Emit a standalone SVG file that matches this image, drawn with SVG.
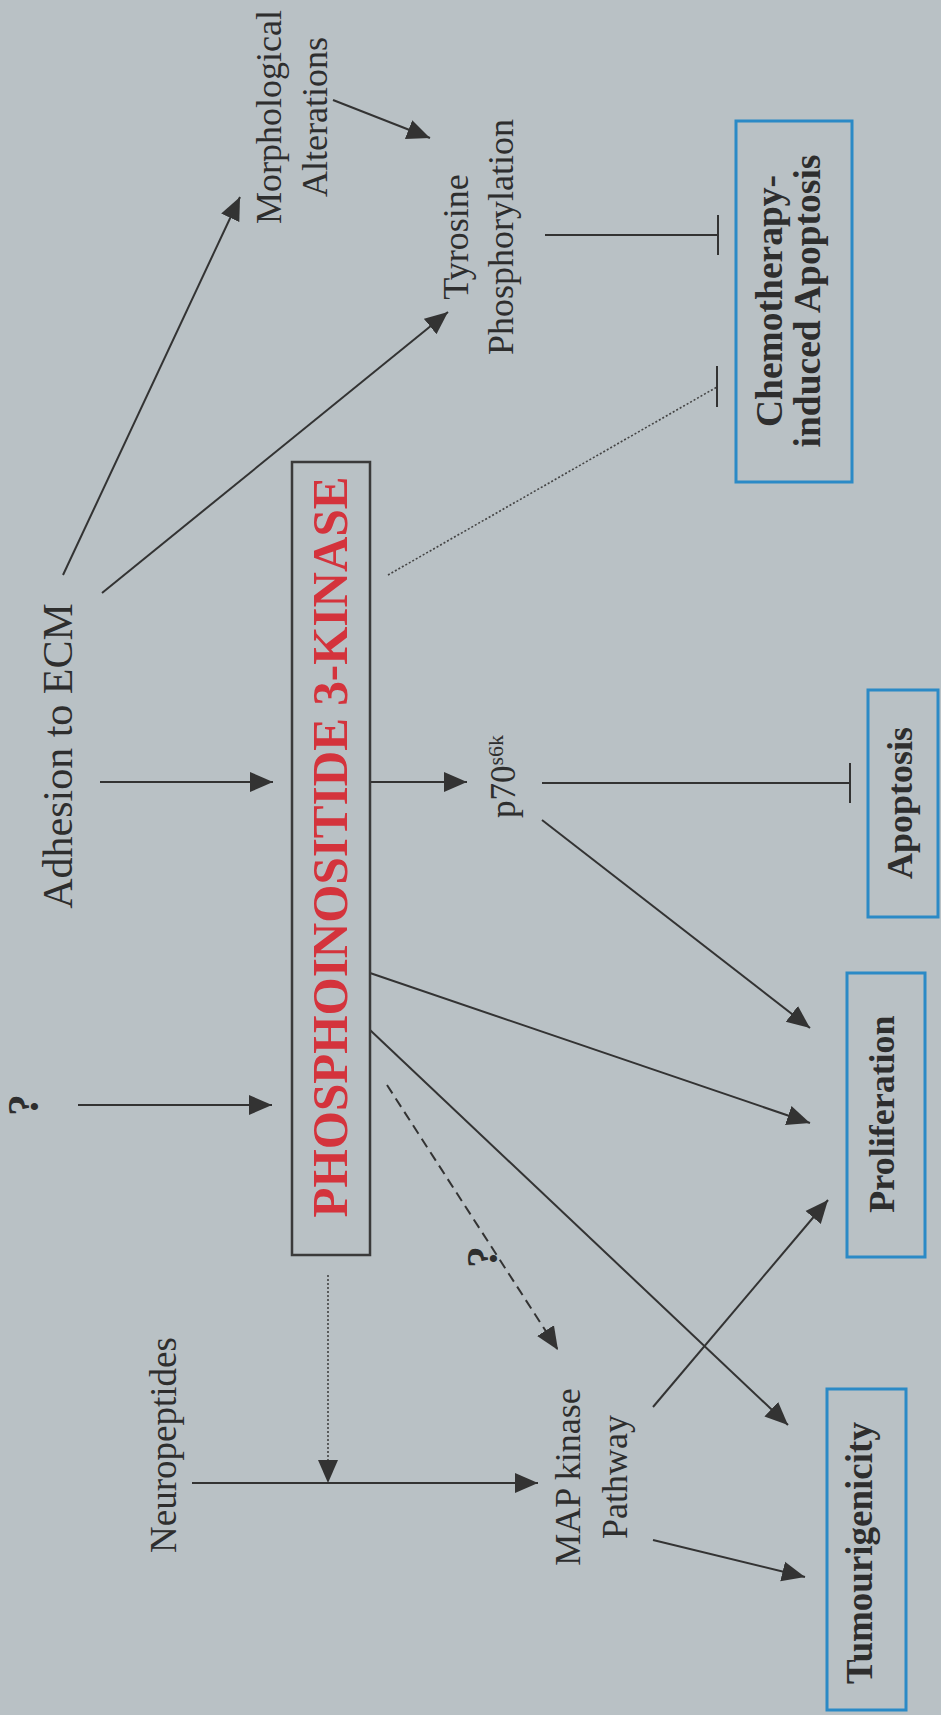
<svg xmlns="http://www.w3.org/2000/svg" width="941" height="1715" viewBox="0 0 941 1715">
<defs>
<style>
.t{font-family:"Liberation Serif","Times New Roman",serif;fill:#2e2e2e;text-anchor:middle}
.b{font-weight:bold}
.red{fill:#d4333c}
.ln{stroke:#333;stroke-width:2;fill:none}
.dot{stroke:#444;stroke-width:1.6;stroke-dasharray:2 2;fill:none}
.dash{stroke:#333;stroke-width:2;stroke-dasharray:10 6;fill:none}
.bbox{fill:none;stroke:#2b8ac6;stroke-width:3}
.kbox{fill:none;stroke:#3a3a3a;stroke-width:2.5}
</style>
<marker id="ah" markerUnits="userSpaceOnUse" markerWidth="24" markerHeight="22" viewBox="0 0 24 22" refX="23" refY="11" orient="auto">
<path d="M0,1 L23,11 L0,21 z" fill="#333"/>
</marker>
</defs>
<rect width="941" height="1715" fill="#b9c1c5"/>

<g id="connectors">
<line class="ln" x1="333" y1="100" x2="430" y2="138" marker-end="url(#ah)"/>
<line class="ln" x1="63" y1="575" x2="240" y2="197" marker-end="url(#ah)"/>
<line class="ln" x1="102" y1="593" x2="448" y2="312" marker-end="url(#ah)"/>
<line class="ln" x1="545" y1="235" x2="718" y2="235"/>
<line class="ln" x1="718" y1="215" x2="718" y2="255"/>
<line class="dot" x1="388" y1="575" x2="717" y2="387"/>
<line class="ln" x1="717" y1="366" x2="717" y2="407"/>
<line class="ln" x1="100" y1="782" x2="273" y2="782" marker-end="url(#ah)"/>
<line class="ln" x1="370" y1="782" x2="467" y2="782" marker-end="url(#ah)"/>
<line class="ln" x1="542" y1="783" x2="850" y2="783"/>
<line class="ln" x1="850" y1="763" x2="850" y2="803"/>
<line class="ln" x1="542" y1="820" x2="810" y2="1028" marker-end="url(#ah)"/>
<line class="ln" x1="370" y1="973" x2="810" y2="1123" marker-end="url(#ah)"/>
<line class="ln" x1="370" y1="1030" x2="788" y2="1425" marker-end="url(#ah)"/>
<line class="dash" x1="387" y1="1085" x2="558" y2="1350" marker-end="url(#ah)"/>
<line class="ln" x1="653" y1="1407" x2="828" y2="1200" marker-end="url(#ah)"/>
<line class="ln" x1="653" y1="1540" x2="805" y2="1577" marker-end="url(#ah)"/>
<line class="ln" x1="192" y1="1483" x2="538" y2="1483" marker-end="url(#ah)"/>
<line class="dot" x1="328" y1="1275" x2="328" y2="1483" marker-end="url(#ah)"/>
<line class="ln" x1="78" y1="1105" x2="272" y2="1105" marker-end="url(#ah)"/>
<text class="t b" font-size="44" transform="translate(497,1257) rotate(-90)">?</text>
</g>

<g id="morph">
<text class="t" font-size="36" transform="translate(281,117) rotate(-90)"><tspan x="0" y="0">Morphological</tspan><tspan x="0" dy="46">Alterations</tspan></text>
</g>

<g id="tyrosine">
<text class="t" font-size="36" transform="translate(468,237) rotate(-90)"><tspan x="0" y="0">Tyrosine</tspan><tspan x="0" dy="45">Phosphorylation</tspan></text>
</g>

<g id="chemo">
<rect class="bbox" x="736" y="121" width="116" height="361"/>
<text class="t b" font-size="37.5" transform="translate(782,301) rotate(-90)"><tspan x="0" y="0">Chemotherapy-</tspan><tspan x="0" dy="38">induced Apoptosis</tspan></text>
</g>

<g id="adhesion">
<text class="t" font-size="42" transform="translate(72,756) rotate(-90)">Adhesion to ECM</text>
</g>

<g id="pi3k">
<rect class="kbox" x="292" y="462" width="78" height="793"/>
<text class="t b red" font-size="50" textLength="741" lengthAdjust="spacingAndGlyphs" transform="translate(347,847) rotate(-90)">PHOSPHOINOSITIDE 3-KINASE</text>
</g>

<g id="p70">
<text class="t" font-size="35" style="text-anchor:start" transform="translate(515,818) rotate(-90)">p70<tspan font-size="22" dy="-12">s6k</tspan></text>
</g>

<g id="apoptosis">
<rect class="bbox" x="868" y="690" width="70" height="227"/>
<text class="t b" font-size="36" transform="translate(912,803) rotate(-90)">Apoptosis</text>
</g>

<g id="proliferation">
<rect class="bbox" x="847" y="973" width="78" height="284"/>
<text class="t b" font-size="36" transform="translate(894,1114) rotate(-90)">Proliferation</text>
</g>

<g id="question">
<text class="t b" font-size="44" transform="translate(38,1105) rotate(-90)">?</text>
</g>

<g id="neuropeptides">
<text class="t" font-size="37" transform="translate(176,1445) rotate(-90)">Neuropeptides</text>
</g>

<g id="mapk">
<text class="t" font-size="36" transform="translate(580,1477) rotate(-90)"><tspan x="0" y="0">MAP kinase</tspan><tspan x="0" dy="47">Pathway</tspan></text>
</g>

<g id="tumour">
<rect class="bbox" x="827" y="1389" width="79" height="321"/>
<text class="t b" font-size="37" transform="translate(872,1553) rotate(-90)">Tumourigenicity</text>
</g>
</svg>
